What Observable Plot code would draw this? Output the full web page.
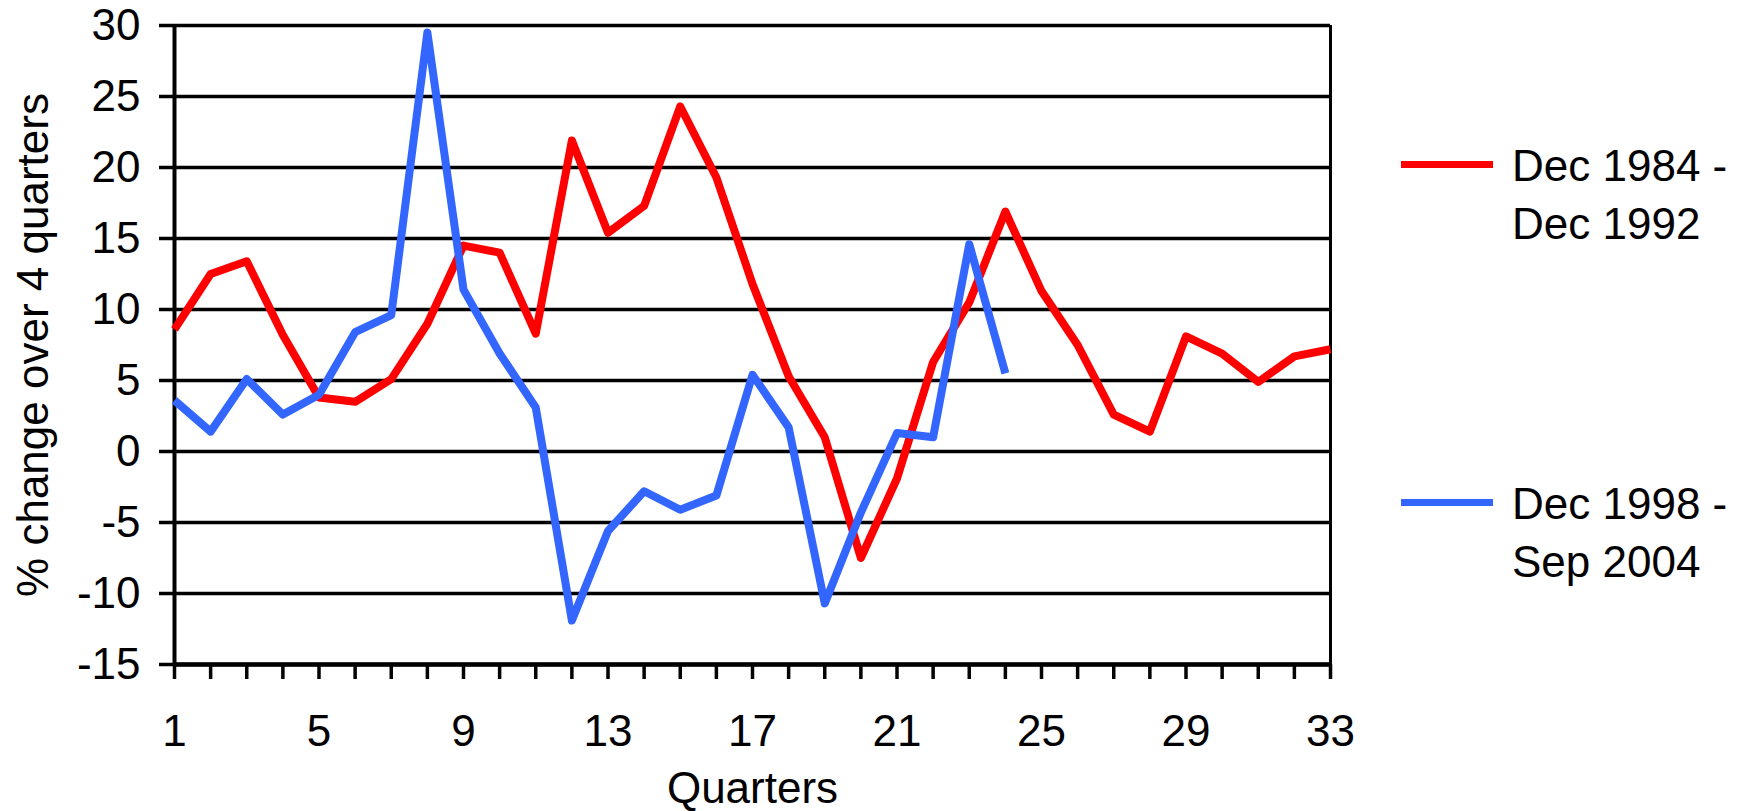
<!DOCTYPE html>
<html>
<head>
<meta charset="utf-8">
<script src="https://cdn.jsdelivr.net/npm/d3@7"></script>
<script src="https://cdn.jsdelivr.net/npm/@observablehq/plot@0.6"></script>
<style>
  html, body { margin: 0; padding: 0; background: #fff; }
  #wrap { position: relative; width: 1741px; height: 811px; font-family: Arial, "Liberation Sans", sans-serif; }
  #wrap svg { position: absolute; left: 0; top: 0; }
  .lg { position: absolute; left: 1401px; font-size: 44px; line-height: 58px; color: #000; }
  .lg .sw { position: absolute; left: 0; width: 92px; height: 7px; }
  .lg .tx { position: absolute; left: 111px; white-space: nowrap; }
</style>
</head>
<body>
<div id="wrap"></div>
<script>
const quarters = d3.range(1, 34);
const xTickLabels = [1, 5, 9, 13, 17, 21, 25, 29, 33];
const yTicks = [-15, -10, -5, 0, 5, 10, 15, 20, 25, 30];
const seriesNames = ["Dec 1984 - Dec 1992", "Dec 1998 - Sep 2004"];
const seriesColors = ["#ff0000", "#3366ff"];
const red = [8.6, 12.5, 13.4, 8.2, 3.8, 3.5, 5.1, 9.0, 14.5, 14.0, 8.3, 21.9, 15.4, 17.3, 24.3, 19.3, 11.8, 5.3, 1.0, -7.5, -1.9, 6.3, 10.5, 16.9, 11.3, 7.5, 2.6, 1.4, 8.1, 6.9, 4.9, 6.7, 7.2];
const blue = [3.6, 1.4, 5.1, 2.6, 4.0, 8.4, 9.6, 29.5, 11.4, 6.9, 3.1, -11.9, -5.6, -2.8, -4.1, -3.1, 5.4, 1.7, -10.7, -4.3, 1.3, 1.0, 14.6, 5.5];

const redData = red.map((v, i) => ({q: quarters[i], v}));
const blueData = blue.map((v, i) => ({q: quarters[i], v}));

const chart = Plot.plot({
  width: 1741,
  height: 811,
  marginLeft: 174,
  marginRight: 411,
  marginTop: 25,
  marginBottom: 147,
  style: {fontFamily: 'Arial, "Liberation Sans", sans-serif', fontSize: "44px", color: "#000", background: "transparent"},
  x: {domain: [1, 33]},
  y: {domain: [-15, 30]},
  marks: [
    Plot.ruleY(yTicks, {stroke: "#000", strokeWidth: 3.5}),
    Plot.ruleX([33], {stroke: "#000", strokeWidth: 3}),
    Plot.axisY(yTicks, {tickSize: 15, tickPadding: 19, strokeWidth: 3.5, fontSize: 44, label: null, stroke: "#000", tickFormat: d => String(d)}),
    Plot.axisX(quarters, {tickSize: 15, strokeWidth: 3.5, tickFormat: () => "", label: null, stroke: "#000"}),
    Plot.axisX(xTickLabels, {tickSize: 0, tickPadding: 50, fontSize: 44, label: null, tickFormat: d => String(d)}),
    Plot.ruleX([1], {stroke: "#000", strokeWidth: 4}),
    Plot.ruleY([-15], {stroke: "#000", strokeWidth: 4.5}),
    Plot.line(redData, {x: "q", y: "v", stroke: seriesColors[0], strokeWidth: 8, strokeLinejoin: "round", strokeLinecap: "butt"}),
    Plot.line(blueData, {x: "q", y: "v", stroke: seriesColors[1], strokeWidth: 8, strokeLinejoin: "round", strokeLinecap: "butt"}),
    Plot.text(["Quarters"], {frameAnchor: "bottom", dy: 124, lineAnchor: "middle", textAnchor: "middle", fontSize: 44, fill: "#000"}),
    Plot.text(["% change over 4 quarters"], {frameAnchor: "left", dx: -141, rotate: -90, textAnchor: "middle", lineAnchor: "middle", fontSize: 44, fill: "#000"})
  ]
});
const wrap = document.getElementById("wrap");
wrap.appendChild(chart);

const legendTops = [137, 475];
const legendLines = [["Dec 1984 -", "Dec 1992"], ["Dec 1998 -", "Sep 2004"]];
seriesNames.forEach((name, i) => {
  const g = document.createElement("div");
  g.className = "lg";
  g.style.top = legendTops[i] + "px";
  const sw = document.createElement("div");
  sw.className = "sw";
  sw.style.background = seriesColors[i];
  sw.style.top = "24px";
  g.appendChild(sw);
  const tx = document.createElement("div");
  tx.className = "tx";
  tx.innerHTML = legendLines[i].join("<br>");
  g.appendChild(tx);
  wrap.appendChild(g);
});
</script>
</body>
</html>
